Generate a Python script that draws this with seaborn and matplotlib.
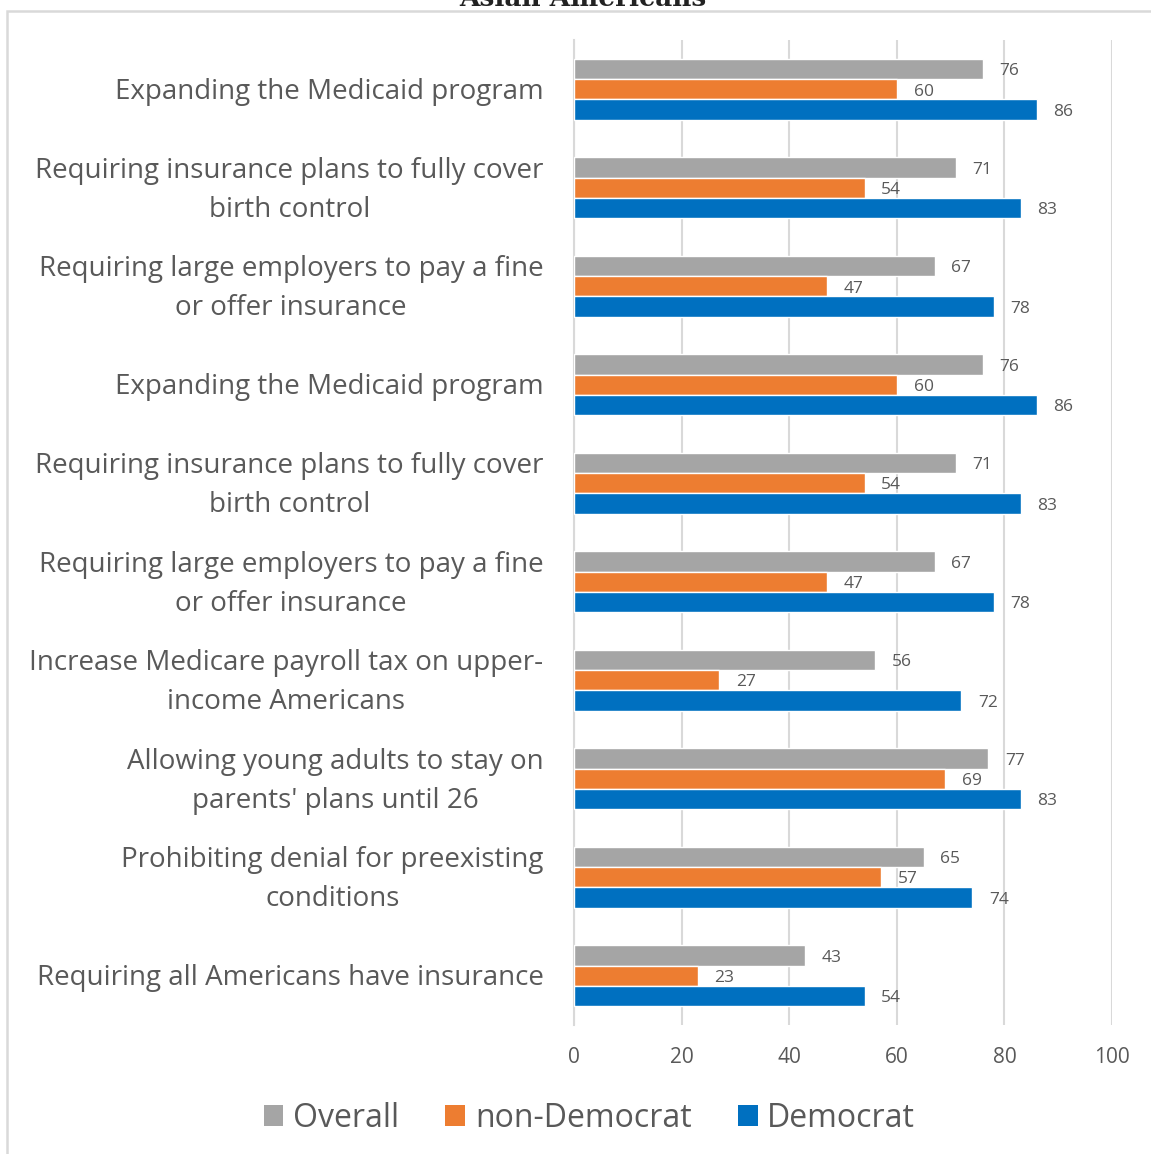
import matplotlib
matplotlib.use("Agg")
import matplotlib.pyplot as plt
from matplotlib.patches import Rectangle, Patch
from matplotlib.transforms import ScaledTranslation
import seaborn as sns
import pandas as pd

# Policy items, listed top to bottom
items = [
    "Expanding the Medicaid program",
    "Requiring insurance plans to fully cover\nbirth control",
    "Requiring large employers to pay a fine\nor offer insurance",
    "Expanding the Medicaid program",
    "Requiring insurance plans to fully cover\nbirth control",
    "Requiring large employers to pay a fine\nor offer insurance",
    "Increase Medicare payroll tax on upper-\nincome Americans",
    "Allowing young adults to stay on\nparents' plans until 26",
    "Prohibiting denial for preexisting\nconditions",
    "Requiring all Americans have insurance",
]
groups = ["Overall", "non-Democrat", "Democrat"]
overall = [76, 71, 67, 76, 71, 67, 56, 77, 65, 43]
non_democrat = [60, 54, 47, 60, 54, 47, 27, 69, 57, 23]
democrat = [86, 83, 78, 86, 83, 78, 72, 83, 74, 54]
x_ticks = [0, 20, 40, 60, 80, 100]
title = "Asian Americans"

colors = ["#A5A5A5", "#ED7D31", "#0070C0"]
text_color = "#595959"
grid_color = "#D9D9D9"

sns.set_style("white")
plt.rcParams["font.family"] = ["Open Sans", "DejaVu Sans"]

# Long-form table; items repeat, so each row gets its own key
keys = [f"row{i}" for i in range(len(items))]
rows = []
for k, o, n, d in zip(keys, overall, non_democrat, democrat):
    rows.append((k, "Overall", o))
    rows.append((k, "non-Democrat", n))
    rows.append((k, "Democrat", d))
df = pd.DataFrame(rows, columns=["item", "group", "value"])

fig = plt.figure(figsize=(11.51, 11.54), dpi=100)
ax = fig.add_axes([0.4987, 0.1118, 0.4675, 0.8535])

sns.barplot(
    data=df, y="item", x="value", hue="group", order=keys, hue_order=groups,
    palette=colors, orient="h", width=0.62, dodge=True, legend=False,
    saturation=1, ax=ax, errorbar=None,
)

for cont in ax.containers:
    labels = ax.bar_label(cont, fmt="%d", padding=12, fontsize=12.5,
                          color=text_color)
    for t in labels:
        t.set_va("center")
        x_off, y_off = t.xyann
        t.xyann = (x_off, y_off - 1.6)

ax.set_xlim(0, 100)
ax.set_xticks(x_ticks)
ax.set_xticklabels([str(t) for t in x_ticks], fontsize=15, color=text_color)
ax.set_yticks(range(len(items)))
ax.set_yticklabels(items, fontsize=20, color=text_color,
                   multialignment="center", linespacing=1.52, va="center")
ax.set_ylim(len(items) - 0.5, -0.5)
ax.set_xlabel("")
ax.set_ylabel("")
ax.tick_params(axis="y", length=0, pad=22)
ax.tick_params(axis="x", length=0, pad=16)

shift_down = ScaledTranslation(0, -2.5 / 100, fig.dpi_scale_trans)
for lbl in ax.get_yticklabels():
    lbl.set_transform(lbl.get_transform() + shift_down)

ax.grid(axis="x", color=grid_color, linewidth=1.5)
ax.set_axisbelow(True)
for side in ["top", "right", "bottom"]:
    ax.spines[side].set_visible(False)
ax.spines["left"].set_color(grid_color)
ax.spines["left"].set_linewidth(1.5)
ax.spines["left"].set_zorder(0.5)

# Legend below the plot
handles = [Patch(facecolor=c, edgecolor="none") for c in colors]
fig.legend(
    handles, groups, loc="center", bbox_to_anchor=(0.512, 0.031), ncol=3,
    frameon=False, fontsize=23, labelcolor=text_color,
    handlelength=0.62, handleheight=0.62, handletextpad=0.3, columnspacing=1.45,
)

# Chart frame and heading
fig.patches.append(Rectangle((7 / 1151, -0.05), 1.2, 1 - 11 / 1154 + 0.05,
                             transform=fig.transFigure, fill=False,
                             edgecolor=grid_color, linewidth=1.8))
fig.text(0.506, 1 + 2 / 1154, title, ha="center", va="center",
         fontsize=19, fontweight="bold", family="DejaVu Serif", color="#222222")

fig.savefig("out.png", dpi=100)
